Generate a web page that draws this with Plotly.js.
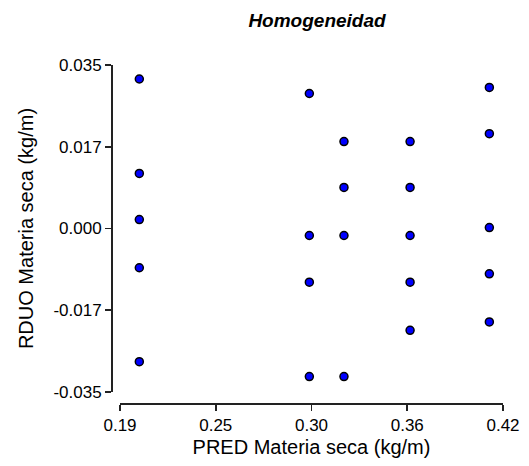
<!DOCTYPE html>
<html>
<head>
<meta charset="utf-8">
<script src="https://cdn.plot.ly/plotly-3.0.1.min.js"></script>
<style>html,body{margin:0;padding:0;background:#fff;}#chart{width:529px;height:466px;}</style>
</head>
<body>
<div id="chart"></div>
<script>
// Predicted values (x) and residuals (y)
var predValues = [
  0.2016, 0.2016, 0.2016, 0.2016, 0.2016,
  0.3037, 0.3037, 0.3037, 0.3037,
  0.3245, 0.3245, 0.3245, 0.3245,
  0.3642, 0.3642, 0.3642, 0.3642, 0.3642,
  0.4118, 0.4118, 0.4118, 0.4118, 0.4118
];
var residValues = [
  0.0320, 0.0118, 0.0019, -0.0084, -0.0285,
  0.0289, -0.0015, -0.0115, -0.0317,
  0.0186, 0.0088, -0.0015, -0.0317,
  0.0186, 0.0088, -0.0015, -0.0115, -0.0218,
  0.0302, 0.0203, 0.0002, -0.0097, -0.0200
];
var xTickVals = [0.19, 0.2475, 0.305, 0.3625, 0.42];
var xTickText = ["0.19", "0.25", "0.30", "0.36", "0.42"];
var yTickVals = [-0.035, -0.0175, 0, 0.0175, 0.035];
var yTickText = ["-0.035", "-0.017", "0.000", "0.017", "0.035"];

var trace = {
  x: predValues,
  y: residValues,
  type: 'scatter',
  mode: 'markers',
  marker: {color: '#0000ff', size: 8, line: {color: '#000000', width: 1.5}},
  hoverinfo: 'x+y'
};

var W = 529, H = 466;
var FONT = 'Liberation Sans, Arial, sans-serif';
var layout = {
  width: W, height: H,
  margin: {l: 0, r: 0, t: 0, b: 0},
  paper_bgcolor: '#ffffff',
  plot_bgcolor: '#ffffff',
  showlegend: false,
  font: {family: FONT, color: '#000', size: 17},
  title: {
    text: '<b><i>Homogeneidad</i></b>',
    font: {family: FONT, size: 19, color: '#000'},
    x: 317 / W, xanchor: 'center', xref: 'paper',
    y: 1 - 20 / H, yanchor: 'middle', yref: 'paper'
  },
  xaxis: {
    domain: [120 / W, 503 / W],
    range: [0.19, 0.42],
    anchor: 'free',
    position: (H - 403) / H,
    showgrid: false, zeroline: false,
    showline: true, linecolor: '#222', linewidth: 1.8,
    ticks: 'outside', ticklen: 6, tickwidth: 1.8, tickcolor: '#222',
    tickmode: 'array', tickvals: xTickVals, ticktext: xTickText,
    tickfont: {family: FONT, size: 17, color: '#000'},
    title: {text: 'PRED Materia seca (kg/m)', font: {family: FONT, size: 20, color: '#000'}, standoff: 6}
  },
  yaxis: {
    domain: [(H - 392) / H, (H - 65) / H],
    range: [-0.035, 0.035],
    anchor: 'free',
    position: 111 / W,
    showgrid: false, zeroline: false,
    showline: true, linecolor: '#222', linewidth: 1.8,
    ticks: 'outside', ticklen: 6, tickwidth: 1.8, tickcolor: '#222',
    tickmode: 'array', tickvals: yTickVals, ticktext: yTickText,
    tickfont: {family: FONT, size: 17, color: '#000'},
    title: {text: 'RDUO Materia seca (kg/m)', font: {family: FONT, size: 20, color: '#000'}, standoff: 12}
  }
};

Plotly.newPlot('chart', [trace], layout, {displayModeBar: false, staticPlot: true});
</script>
</body>
</html>
